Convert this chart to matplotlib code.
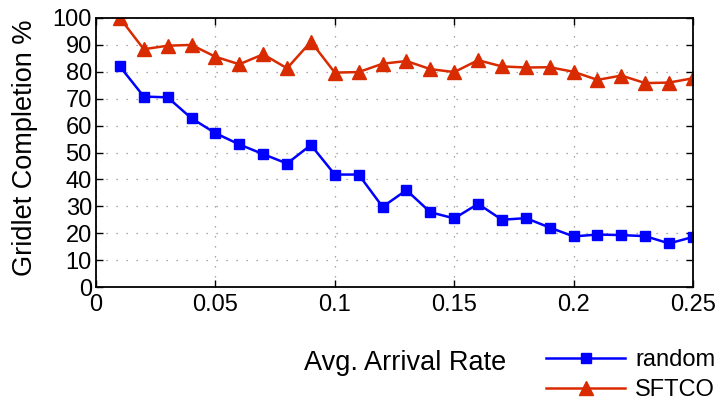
import matplotlib.pyplot as plt
import numpy as np

plt.switch_backend("Agg")

# arrival rates on the x axis
arrival_rate = [0.01, 0.02, 0.03, 0.04, 0.05, 0.06, 0.07, 0.08, 0.09, 0.10,
                0.11, 0.12, 0.13, 0.14, 0.15, 0.16, 0.17, 0.18, 0.19, 0.20,
                0.21, 0.22, 0.23, 0.24, 0.25]

# gridlet completion (%) per scheduling strategy
random_pct = [82.0, 70.8, 70.5, 62.7, 57.2, 53.0, 49.4, 45.9, 52.8, 41.8,
              41.8, 29.8, 36.0, 27.8, 25.5, 30.9, 25.0, 25.6, 22.1, 18.8,
              19.5, 19.3, 18.9, 16.2, 18.6]
sftco_pct = [100.0, 88.4, 89.7, 90.0, 85.6, 82.8, 86.5, 81.3, 91.2, 79.7,
             79.9, 83.0, 84.0, 81.0, 79.9, 84.3, 82.0, 81.6, 81.7, 80.0,
             77.0, 78.6, 75.8, 76.0, 77.6]

x_ticks = [0, 0.05, 0.1, 0.15, 0.2, 0.25]
x_tick_labels = ["0", "0.05", "0.1", "0.15", "0.2", "0.25"]
y_ticks = list(range(0, 101, 10))

plt.rcParams["font.family"] = ["Liberation Sans", "DejaVu Sans"]
plt.rcParams["font.size"] = 17

fig = plt.figure(figsize=(7.2, 4.05), dpi=100)
ax = fig.add_axes([96 / 720, 118 / 405, 597 / 720, 269 / 405])

ax.plot(arrival_rate, random_pct, color="#0000ff", marker="s",
        markersize=7, linewidth=1.8, label="random")
ax.plot(arrival_rate, sftco_pct, color="#d92b00", marker="^",
        markersize=10, linewidth=1.8, label="SFTCO")

ax.set_xlim(0, 0.25)
ax.set_ylim(0, 100)
ax.set_xticks(x_ticks)
ax.set_xticklabels(x_tick_labels)
ax.set_yticks(y_ticks)

# sparse dotted grid, as in the original plot
ax.grid(True, color="#8c8c8c", linestyle=(0, (1, 7)), linewidth=0.9)
ax.tick_params(direction="in", top=True, right=True, length=5, width=1,
               pad=5, labelsize=17)
ax.tick_params(axis="y", pad=3)
for side in ax.spines.values():
    side.set_linewidth(1.3)
ax.set_axisbelow(True)

ax.set_xlabel("Avg. Arrival Rate", fontsize=19.5)
ax.set_ylabel("Gridlet Completion %", fontsize=19.5)
ax.xaxis.set_label_coords(0.518, -0.234)
ax.yaxis.set_label_coords(-0.097, 0.517)

fig.legend(loc="upper left", bbox_to_anchor=(546 / 720, 1 - 349 / 405),
           frameon=False, borderpad=0, borderaxespad=0, handlelength=3.35,
           handletextpad=0.42, labelspacing=0.35, fontsize=17)

fig.savefig("out.png", dpi=100)
